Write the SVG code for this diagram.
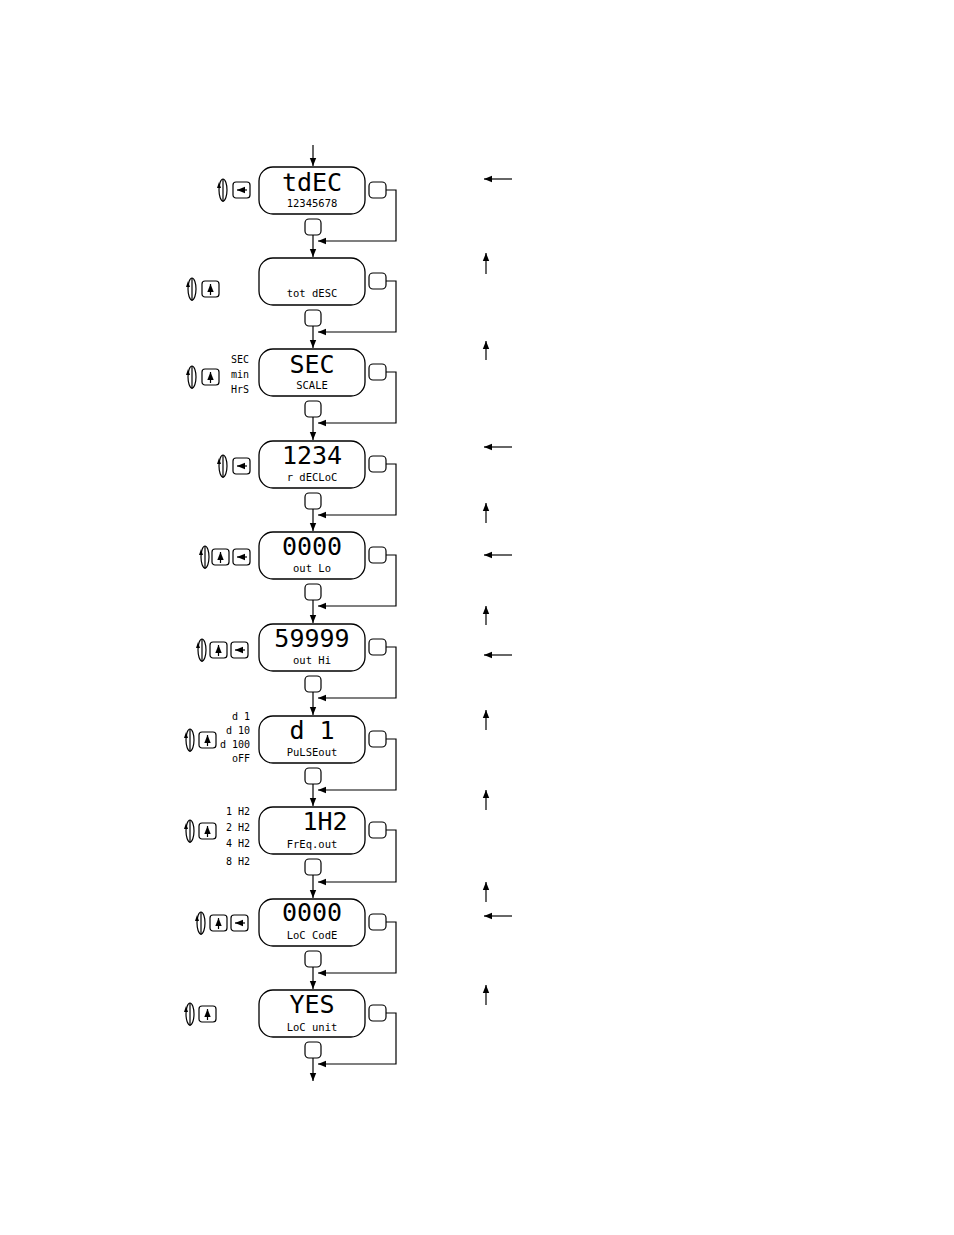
<svg xmlns="http://www.w3.org/2000/svg" width="954" height="1235" viewBox="0 0 954 1235">
<style>
.d{fill:#fff;stroke:#000;stroke-width:1.3}
.b{fill:#fff;stroke:#000;stroke-width:1.2}
.l{fill:none;stroke:#000;stroke-width:1.2}
.big{font-family:"DejaVu Sans Mono",monospace;font-size:25px;text-anchor:middle}
.sm{font-family:"DejaVu Sans Mono",monospace;font-size:10.5px;text-anchor:middle}
.op{font-family:"DejaVu Sans Mono",monospace;font-size:10px;text-anchor:end;fill:#000}
</style>
<defs>
<marker id="a" viewBox="0 0 10 10" refX="10" refY="5" markerWidth="7" markerHeight="7" orient="auto"><path d="M0,1 L10,5 L0,9 z"/></marker>
<g id="rot"><ellipse cx="0" cy="0" rx="4" ry="11" class="l"/><path d="M0,-11 L0,12" class="l"/><path d="M-6,-2 L-4,-8 L-2,-2 z"/></g>
<g id="kl"><rect x="0" y="-8" width="17" height="16" rx="3" class="b"/><path d="M14,0 L4,0" class="l" marker-end="url(#a)"/></g>
<g id="ku"><rect x="0" y="-8" width="17" height="16" rx="3" class="b"/><path d="M8.5,6 L8.5,-5" class="l" marker-end="url(#a)"/></g>
</defs>
<g id="connectors">
<path d="M313,145 L313,166" class="l" marker-end="url(#a)"/>
<path d="M313,235 L313,257" class="l" marker-end="url(#a)"/><path d="M386,190 L396,190 L396,241 L318,241" class="l" marker-end="url(#a)"/>
<path d="M313,326 L313,348" class="l" marker-end="url(#a)"/><path d="M386,281 L396,281 L396,332 L318,332" class="l" marker-end="url(#a)"/>
<path d="M313,417 L313,440" class="l" marker-end="url(#a)"/><path d="M386,372 L396,372 L396,423 L318,423" class="l" marker-end="url(#a)"/>
<path d="M313,509 L313,531" class="l" marker-end="url(#a)"/><path d="M386,464 L396,464 L396,515 L318,515" class="l" marker-end="url(#a)"/>
<path d="M313,600 L313,623" class="l" marker-end="url(#a)"/><path d="M386,555 L396,555 L396,606 L318,606" class="l" marker-end="url(#a)"/>
<path d="M313,692 L313,715" class="l" marker-end="url(#a)"/><path d="M386,647 L396,647 L396,698 L318,698" class="l" marker-end="url(#a)"/>
<path d="M313,784 L313,806" class="l" marker-end="url(#a)"/><path d="M386,739 L396,739 L396,790 L318,790" class="l" marker-end="url(#a)"/>
<path d="M313,875 L313,898" class="l" marker-end="url(#a)"/><path d="M386,830 L396,830 L396,882 L318,882" class="l" marker-end="url(#a)"/>
<path d="M313,967 L313,989" class="l" marker-end="url(#a)"/><path d="M386,922 L396,922 L396,973 L318,973" class="l" marker-end="url(#a)"/>
<path d="M313,1058 L313,1081" class="l" marker-end="url(#a)"/><path d="M386,1013 L396,1013 L396,1064 L318,1064" class="l" marker-end="url(#a)"/>
</g>
<g id="rightarrows">
<path d="M512,179 L484,179" class="l" marker-end="url(#a)"/>
<path d="M486,274 L486,253" class="l" marker-end="url(#a)"/>
<path d="M486,360 L486,341" class="l" marker-end="url(#a)"/>
<path d="M512,447 L484,447" class="l" marker-end="url(#a)"/>
<path d="M486,523 L486,503" class="l" marker-end="url(#a)"/>
<path d="M512,555 L484,555" class="l" marker-end="url(#a)"/>
<path d="M486,625 L486,606" class="l" marker-end="url(#a)"/>
<path d="M512,655 L484,655" class="l" marker-end="url(#a)"/>
<path d="M486,730 L486,710" class="l" marker-end="url(#a)"/>
<path d="M486,810 L486,790" class="l" marker-end="url(#a)"/>
<path d="M486,902 L486,882" class="l" marker-end="url(#a)"/>
<path d="M512,916 L484,916" class="l" marker-end="url(#a)"/>
<path d="M486,1005 L486,985" class="l" marker-end="url(#a)"/>
</g>
<g id="n1"><rect x="259" y="167" width="106" height="47" rx="14" class="d"/><rect x="369" y="182" width="17" height="16" rx="4" class="b"/><rect x="305" y="219" width="16" height="16" rx="4" class="b"/><text x="312" y="191" class="big">tdEC</text><text x="312" y="207" class="sm">12345678</text><use href="#rot" x="223" y="190"/><use href="#kl" x="233" y="190"/></g>
<g id="n2"><rect x="259" y="258" width="106" height="47" rx="14" class="d"/><rect x="369" y="273" width="17" height="16" rx="4" class="b"/><rect x="305" y="310" width="16" height="16" rx="4" class="b"/><text x="312" y="297" class="sm">tot dESC</text><use href="#rot" x="192" y="289"/><use href="#ku" x="202" y="289"/></g>
<g id="n3"><rect x="259" y="349" width="106" height="47" rx="14" class="d"/><rect x="369" y="364" width="17" height="16" rx="4" class="b"/><rect x="305" y="401" width="16" height="16" rx="4" class="b"/><text x="312" y="373" class="big">SEC</text><text x="312" y="389" class="sm">SCALE</text><use href="#rot" x="192" y="377"/><use href="#ku" x="202" y="377"/><text x="249" y="363" class="op">SEC</text><text x="249" y="378" class="op">min</text><text x="249" y="393" class="op">HrS</text></g>
<g id="n4"><rect x="259" y="441" width="106" height="47" rx="14" class="d"/><rect x="369" y="456" width="17" height="16" rx="4" class="b"/><rect x="305" y="493" width="16" height="16" rx="4" class="b"/><text x="312" y="464" class="big">1234</text><text x="312" y="481" class="sm">r dECLoC</text><use href="#rot" x="223" y="466"/><use href="#kl" x="233" y="466"/></g>
<g id="n5"><rect x="259" y="532" width="106" height="47" rx="14" class="d"/><rect x="369" y="547" width="17" height="16" rx="4" class="b"/><rect x="305" y="584" width="16" height="16" rx="4" class="b"/><text x="312" y="555" class="big">0000</text><text x="312" y="572" class="sm">out Lo</text><use href="#rot" x="205" y="557"/><use href="#ku" x="212" y="557"/><use href="#kl" x="233" y="557"/></g>
<g id="n6"><rect x="259" y="624" width="106" height="47" rx="14" class="d"/><rect x="369" y="639" width="17" height="16" rx="4" class="b"/><rect x="305" y="676" width="16" height="16" rx="4" class="b"/><text x="312" y="647" class="big">59999</text><text x="312" y="664" class="sm">out Hi</text><use href="#rot" x="202" y="650"/><use href="#ku" x="210" y="650"/><use href="#kl" x="231" y="650"/></g>
<g id="n7"><rect x="259" y="716" width="106" height="47" rx="14" class="d"/><rect x="369" y="731" width="17" height="16" rx="4" class="b"/><rect x="305" y="768" width="16" height="16" rx="4" class="b"/><text x="312" y="739" class="big">d  1</text><text x="312" y="756" class="sm">PuLSEout</text><use href="#rot" x="190" y="740"/><use href="#ku" x="199" y="740"/><text x="250" y="720" class="op">d  1</text><text x="250" y="734" class="op">d 10</text><text x="250" y="748" class="op">d 100</text><text x="250" y="762" class="op">oFF</text></g>
<g id="n8"><rect x="259" y="807" width="106" height="47" rx="14" class="d"/><rect x="369" y="822" width="17" height="16" rx="4" class="b"/><rect x="305" y="859" width="16" height="16" rx="4" class="b"/><text x="325" y="830" class="big">1H2</text><text x="312" y="848" class="sm">FrEq.out</text><use href="#rot" x="190" y="831"/><use href="#ku" x="199" y="831"/><text x="250" y="815" class="op">1 H2</text><text x="250" y="831" class="op">2 H2</text><text x="250" y="847" class="op">4 H2</text><text x="250" y="865" class="op">8 H2</text></g>
<g id="n9"><rect x="259" y="899" width="106" height="47" rx="14" class="d"/><rect x="369" y="914" width="17" height="16" rx="4" class="b"/><rect x="305" y="951" width="16" height="16" rx="4" class="b"/><text x="312" y="921" class="big">0000</text><text x="312" y="939" class="sm">LoC CodE</text><use href="#rot" x="201" y="923"/><use href="#ku" x="210" y="923"/><use href="#kl" x="231" y="923"/></g>
<g id="n10"><rect x="259" y="990" width="106" height="47" rx="14" class="d"/><rect x="369" y="1005" width="17" height="16" rx="4" class="b"/><rect x="305" y="1042" width="16" height="16" rx="4" class="b"/><text x="312" y="1013" class="big">YES</text><text x="312" y="1031" class="sm">LoC unit</text><use href="#rot" x="190" y="1014"/><use href="#ku" x="199" y="1014"/></g>
</svg>
